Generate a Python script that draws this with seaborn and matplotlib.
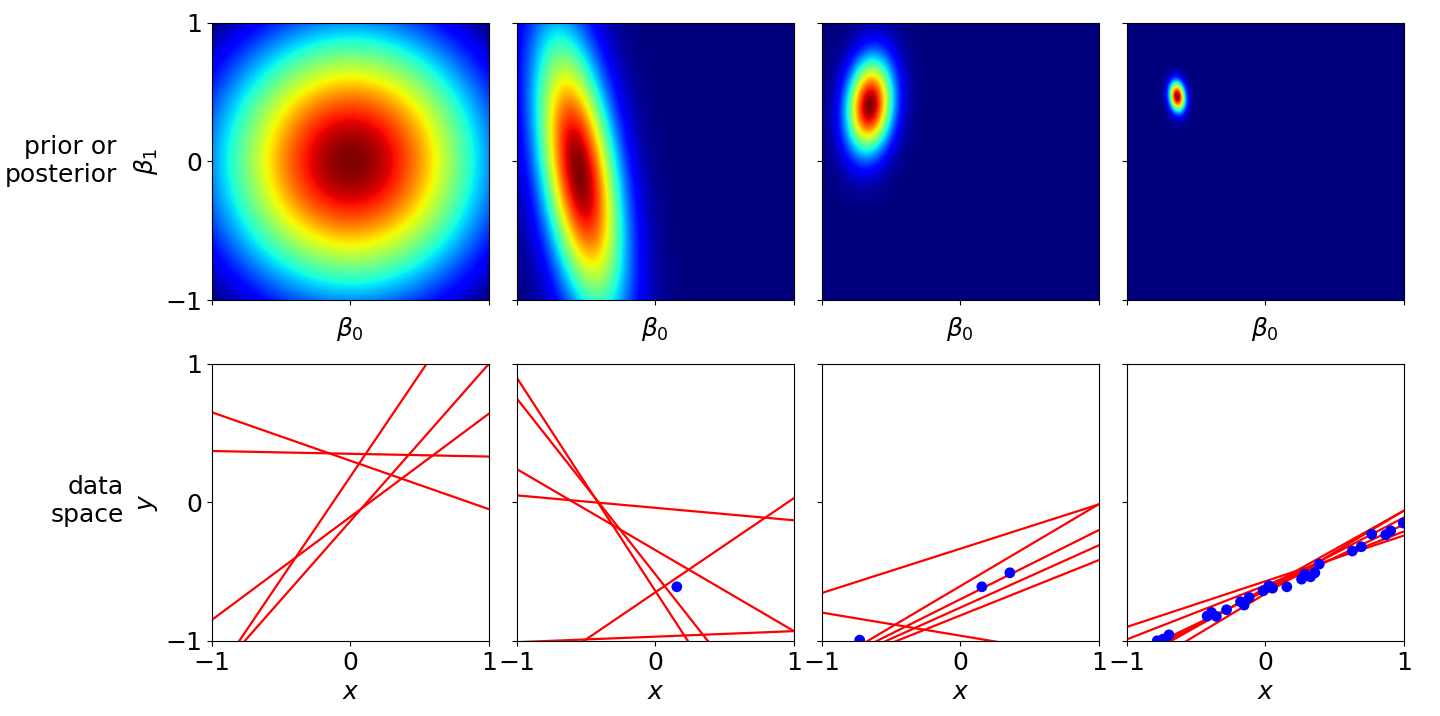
import numpy as np
import matplotlib
matplotlib.use("Agg")
import matplotlib.pyplot as plt
import seaborn as sns

sns.set_style("ticks")
plt.rcParams['font.family'] = ['DejaVu Sans']
plt.rcParams['text.color'] = 'black'
plt.rcParams['axes.labelcolor'] = 'black'
plt.rcParams['xtick.color'] = 'black'
plt.rcParams['ytick.color'] = 'black'
plt.rcParams['axes.edgecolor'] = 'black'

alpha_prior = 2.0
beta_noise = 25.0

# observed points (first three are those shown in panels 2 and 3)
X = [0.155, 0.357, -0.726, -0.738, -0.695, -0.42, -0.389, -0.353, -0.28, -0.179, -0.153,
     -0.117, -0.016, 0.025, 0.052, 0.261, 0.285, 0.326, 0.389, 0.627, 0.692, 0.767,
     0.868, 0.904, 0.995, -0.78]
Y = [-0.61, -0.509, -0.995, -0.988, -0.957, -0.822, -0.795, -0.824, -0.776, -0.718, -0.742,
     -0.687, -0.639, -0.603, -0.62, -0.555, -0.519, -0.538, -0.446, -0.352, -0.321, -0.23,
     -0.235, -0.206, -0.15, -1.0]
n_points = [0, 1, 3, len(X)]

# sampled lines: (intercept, slope) per panel
intercepts = [
    [0.30, 0.35, -0.105, 0.185, -0.136],
    [-0.64, -0.52, -0.345, -0.04, -0.65, -0.97],
    [-0.335, -0.963, -0.605, -0.70, -0.76, -0.817],
    [-0.57, -0.60, -0.62, -0.63, -0.64, -0.66],
]
slopes = [
    [-0.35, -0.02, 0.745, 1.48, 1.136],
    [-1.54, -1.27, -0.585, -0.09, 0.68, 0.04],
    [0.32, -0.167, 0.592, 0.50, 0.45, 0.40],
    [0.33, 0.39, 0.56, 0.52, 0.48, 0.60],
]

fig, axes = plt.subplots(2, 4, figsize=(14.4, 7.16), dpi=100)
fig.subplots_adjust(left=0.147, right=0.975, top=0.968, bottom=0.105, wspace=0.1, hspace=0.23)

g = np.linspace(-1, 1, 300)
B0, B1 = np.meshgrid(g, g)
FS = 18
for i in range(4):
    n = n_points[i]
    xs = np.array(X[:n]); ys = np.array(Y[:n])
    Phi = np.column_stack([np.ones(n), xs])
    prec = alpha_prior * np.eye(2) + beta_noise * Phi.T @ Phi
    S = np.linalg.inv(prec)
    m = beta_noise * S @ Phi.T @ ys if n > 0 else np.zeros(2)
    d0 = B0 - m[0]; d1 = B1 - m[1]
    q = prec[0, 0] * d0**2 + 2 * prec[0, 1] * d0 * d1 + prec[1, 1] * d1**2
    dens = np.exp(-0.5 * q)
    ax = axes[0, i]
    ax.imshow(dens, extent=[-1, 1, -1, 1], origin="lower", cmap="jet", aspect="auto")
    ax.set_xticks([-1, 0, 1]); ax.set_yticks([-1, 0, 1])
    ax.set_xticklabels([])
    ax.set_xlabel(r"$\beta_0$", fontsize=FS)
    if i == 0:
        ax.set_yticklabels(["$-1$", "$0$", "$1$"], fontsize=FS)
        ax.set_ylabel(r"$\beta_1$", fontsize=FS)
    else:
        ax.set_yticklabels([])

    ax = axes[1, i]
    for b, s in zip(intercepts[i], slopes[i]):
        xl = np.array([-1.0, 1.0])
        sns.lineplot(x=xl, y=b + s * xl, ax=ax, color="red", lw=1.6)
    if n > 0:
        sns.scatterplot(x=xs, y=ys, ax=ax, color="blue", s=60, edgecolor="none", zorder=3)
    ax.set_xlim(-1, 1); ax.set_ylim(-1, 1)
    ax.set_xticks([-1, 0, 1]); ax.set_yticks([-1, 0, 1])
    ax.set_xticklabels(["$-1$", "$0$", "$1$"], fontsize=FS)
    ax.set_xlabel("$x$", fontsize=FS)
    if i == 0:
        ax.set_yticklabels(["$-1$", "$0$", "$1$"], fontsize=FS)
        ax.set_ylabel("$y$", fontsize=FS)
    else:
        ax.set_yticklabels([])

fig.text(0.081, 0.775, "prior or\nposterior", ha="right", va="center", fontsize=FS)
fig.text(0.086, 0.3, "data\nspace", ha="right", va="center", fontsize=FS)
fig.savefig("out.png", dpi=100)
